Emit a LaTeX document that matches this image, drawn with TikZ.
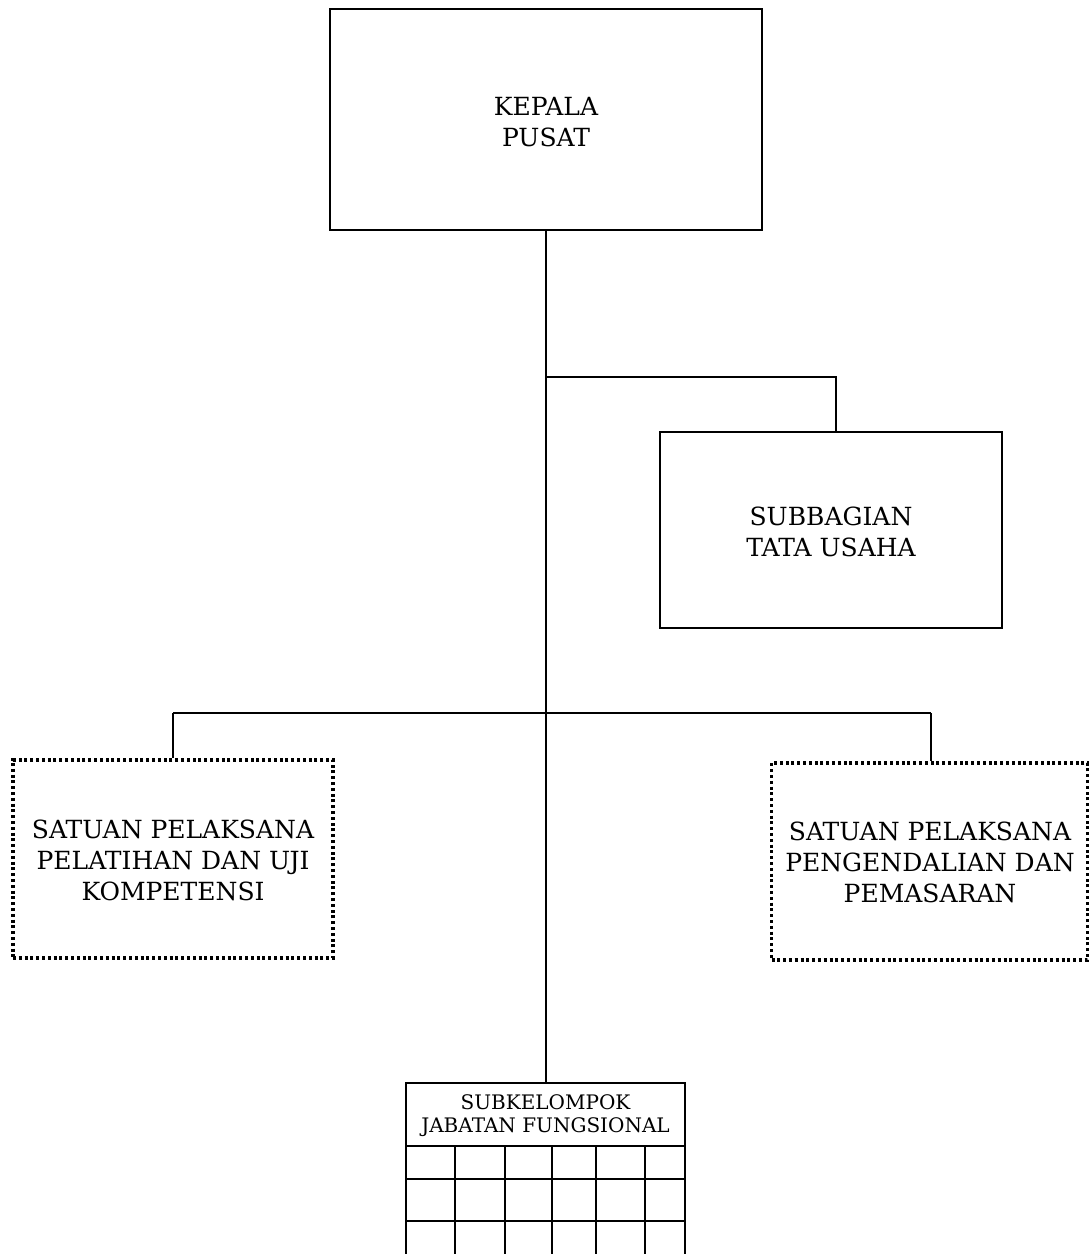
\documentclass[tikz,border=0pt]{standalone}
\usepackage{fontspec}
\setmainfont{DejaVu Serif}
\begin{document}
\begin{tikzpicture}[x=1pt,y=-1pt,
  conn/.style={line width=2.8pt},
  solidbox/.style={draw,line width=2.8pt,inner sep=0pt,align=center},
  dotbox/.style={draw,line width=3.2pt,dash pattern=on 3pt off 2.8pt,inner sep=0pt,align=center},
  lbl/.style={font=\fontsize{25}{31}\selectfont,align=center},
  small/.style={font=\fontsize{20}{23}\selectfont,align=center},
  grid/.style={line width=2.6pt}]
\useasboundingbox (0,0) rectangle (1090,1254);
% boxes
\node[solidbox,minimum width=432pt,minimum height=221pt] (kp) at (546,119.5) {};
\node[lbl] at (546,122) {KEPALA\\PUSAT};
\node[solidbox,minimum width=342pt,minimum height=196pt] (tu) at (831,530) {};
\node[lbl] at (831,532) {SUBBAGIAN\\TATA USAHA};
\node[dotbox,minimum width=320pt,minimum height=198pt] (sp1) at (173,859) {};
\node[lbl] at (173,860) {SATUAN PELAKSANA\\PELATIHAN DAN UJI\\KOMPETENSI};
\node[dotbox,minimum width=316pt,minimum height=197pt] (sp2) at (929.5,861.5) {};
\node[lbl] at (930,862) {SATUAN PELAKSANA\\PENGENDALIAN DAN\\PEMASARAN};
% grid box
\coordinate (gtop) at (546,1083);
\draw[grid] (406,1254) -- (406,1083) -- (685,1083) -- (685,1254);
\draw[grid] (406,1146) -- (685,1146);
\draw[grid] (406,1179) -- (685,1179);
\draw[grid] (406,1221) -- (685,1221);
\foreach \x in {455,505,552,596,645} \draw[grid] (\x,1146) -- (\x,1254);
\node[small] (jf) at (545.5,1116) {SUBKELOMPOK\\JABATAN FUNGSIONAL};
% connectors
\coordinate (j1) at (546,377);
\coordinate (j2) at (546,713);
\draw[conn] (kp.south) -- (gtop);
\draw[conn] (j1) -- (836,377) -- (tu.north -| 836,0);
\draw[conn] (173,713) -- (931,713);
\draw[conn] (173,713) -- (sp1.north -| 173,0);
\draw[conn] (931,713) -- (sp2.north -| 931,0);
\end{tikzpicture}
\end{document}
